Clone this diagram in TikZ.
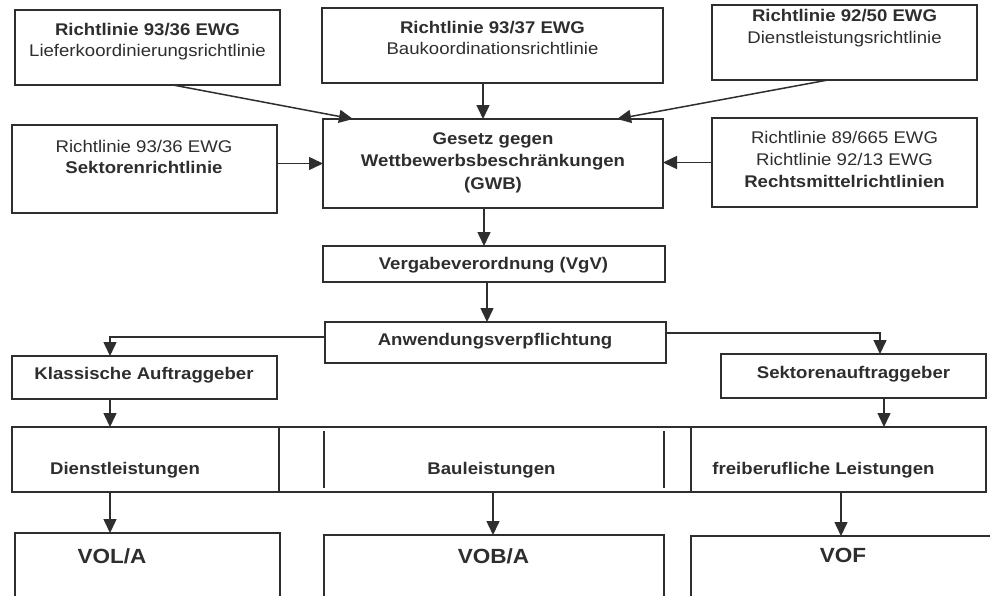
\documentclass[tikz,border=0pt]{standalone}
\usepackage{fontspec}
\setmainfont{Liberation Sans}[FakeStretch=1.1]
\usetikzlibrary{arrows.meta}
\definecolor{ink}{HTML}{2E2E2E}
\begin{document}
\begin{tikzpicture}[x=1pt,y=-1pt,
  box/.style={draw=ink, line width=1.6pt, inner sep=0pt, outer sep=0pt, rectangle},
  lbl/.style={text=ink, inner sep=0pt, align=center, anchor=north,
              font=\fontsize{16.9}{21.5}\selectfont},
  lblb/.style={lbl, font=\fontsize{16.9}{22.5}\selectfont\bfseries},
  big/.style={lbl, font=\fontsize{20.5}{24}\selectfont\bfseries},
  arr/.style={draw=ink, line width=1.5pt, -{Triangle[length=14pt,width=13pt]}},
  divider/.style={draw=ink, line width=1.6pt}]
\useasboundingbox (0,0) rectangle (990,595);
\clip (0,0) rectangle (990,595);

% directives
\node[box, minimum width=265pt, minimum height=75pt] (A) at (147.5,47.5) {};
\node[box, minimum width=341pt, minimum height=75pt] (B) at (492.5,45.5) {};
\node[box, minimum width=265pt, minimum height=75pt] (C) at (844.5,42.5) {};
\node[box, minimum width=265pt, minimum height=88pt] (D) at (144.5,169) {};
\node[box, minimum width=340pt, minimum height=89pt] (GWB) at (493,163.5) {};
\node[box, minimum width=265pt, minimum height=89pt] (E) at (844.5,162.5) {};

\node[lbl] (tA) at (147.5,23) {\textbf{Richtlinie 93/36 EWG}\\Lieferkoordinierungsrichtlinie};
\node[lbl] (tB) at (492.5,21) {\textbf{Richtlinie 93/37 EWG}\\Baukoordinationsrichtlinie};
\node[lbl] (tC) at (844.5,9.5) {\textbf{Richtlinie 92/50 EWG}\\Dienstleistungsrichtlinie};
\node[lbl] (tD) at (144,140) {Richtlinie 93/36 EWG\\\textbf{Sektorenrichtlinie}};
\node[lblb] (tGWB) at (493,132) {Gesetz gegen\\Wettbewerbsbeschränkungen\\(GWB)};
\node[lbl, font=\fontsize{16.9}{22}\selectfont] (tE) at (844.5,131)
  {Richtlinie 89/665 EWG\\Richtlinie 92/13 EWG\\\textbf{Rechtsmittelrichtlinien}};

% regulation and obligation
\node[box, minimum width=342pt, minimum height=36pt] (VgV) at (494,264) {};
\node[box, minimum width=341pt, minimum height=41pt] (Anw) at (495.5,342.5) {};
\node[box, minimum width=265pt, minimum height=43pt] (Klass) at (144.5,377.5) {};
\node[box, minimum width=265pt, minimum height=44pt] (Sekt) at (853.5,376) {};

\node[lblb] (tVgV) at (493.5,257) {Vergabeverordnung (VgV)};
\node[lblb] (tAnw) at (495,333) {Anwendungsverpflichtung};
\node[lblb] (tKlass) at (144,367) {Klassische Auftraggeber};
\node[lblb] (tSekt) at (853.5,366) {Sektorenauftraggeber};

% kinds of contracts
\node[box, minimum width=267pt, minimum height=65pt] (Dl) at (145.5,459.5) {};
\node[box, minimum width=412pt, minimum height=65pt] (Bl) at (485,459.5) {};
\node[box, minimum width=295pt, minimum height=65pt] (Fl) at (838.5,459.5) {};
\draw[divider] ([xshift=45pt,yshift=-4pt]Bl.north west) -- ([xshift=45pt,yshift=4pt]Bl.south west);
\draw[divider] ([xshift=-27pt,yshift=-4pt]Bl.north east) -- ([xshift=-27pt,yshift=4pt]Bl.south east);

\node[lblb] (tDl) at (125,462) {Dienstleistungen};
\node[lblb] (tBl) at (491.5,462) {Bauleistungen};
\node[lblb] (tFl) at (823.5,462) {freiberufliche Leistungen};

% procurement rules
\node[box, minimum width=265pt, minimum height=87pt] (VOL) at (147.5,576.5) {};
\node[box, minimum width=340pt, minimum height=85pt] (VOB) at (494,577.5) {};
\node[box, minimum width=319pt, minimum height=84pt] (VOF) at (850.5,578) {};

\node[big] (tVOL) at (112,548) {VOL/A};
\node[big] (tVOB) at (493.5,548) {VOB/A};
\node[big] (tVOF) at (843,548) {VOF};

% connectors
\draw[arr] ([xshift=25.5pt]A.south) -- ([xshift=-140pt]GWB.north);
\draw[arr] ([xshift=-9.5pt]B.south) -- ([xshift=-10pt]GWB.north);
\draw[arr] ([xshift=-16.5pt]C.south) -- ([xshift=124pt]GWB.north);
\draw[arr] (D.east |- GWB.west) -- (GWB.west);
\draw[arr] (E.west) -- (E.west -| GWB.east);
\draw[arr] ([xshift=-9pt]GWB.south) -- ([xshift=-10pt]VgV.north);
\draw[arr] ([xshift=-7pt]VgV.south) -- ([xshift=-8.5pt]Anw.north);
\draw[arr] ([yshift=5.5pt]Anw.west) -| ([xshift=-34.5pt]Klass.north);
\draw[arr] ([yshift=9.5pt]Anw.east) -| ([xshift=26.5pt]Sekt.north);
\draw[arr] ([xshift=-34.5pt]Klass.south) -- ([xshift=-35.5pt]Dl.north);
\draw[arr] ([xshift=30.5pt]Sekt.south) -- ([xshift=45.5pt]Fl.north);
\draw[arr] ([xshift=-35.5pt]Dl.south) -- ([xshift=-37.5pt]VOL.north);
\draw[arr] ([xshift=8pt]Bl.south) -- ([xshift=-1pt]VOB.north);
\draw[arr] ([xshift=2.5pt]Fl.south) -- ([xshift=-9.5pt]VOF.north);
\end{tikzpicture}
\end{document}
